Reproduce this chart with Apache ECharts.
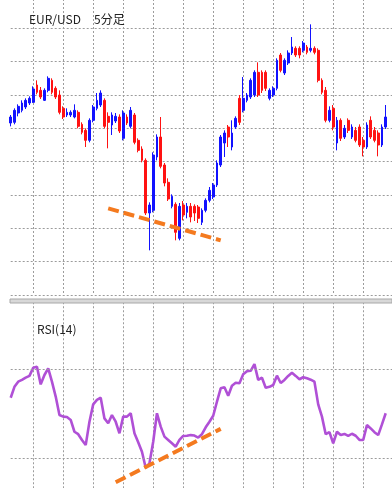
<!DOCTYPE html>
<html><head><meta charset="utf-8">
<script src="https://cdn.jsdelivr.net/npm/echarts@6/dist/echarts.min.js"></script>
<style>html,body{margin:0;padding:0;background:#fff}#c{width:392px;height:488px}</style>
</head><body><div id="c"></div>
<script>
// EUR/USD 5-minute candles
const openPrices=[1.30258,1.30259,1.30273,1.30277,1.30282,1.30288,1.30289,1.30315,1.30307,1.30292,
1.30307,1.30322,1.30310,1.30300,1.30280,1.30270,1.30270,1.30267,1.30274,1.30256,
1.30247,1.30232,1.30262,1.30280,1.30285,1.30292,1.30268,1.30255,1.30261,1.30267,
1.30235,1.30267,1.30253,1.30270,1.30232,1.30219,1.30202,1.30123,1.30127,1.30207,
1.30237,1.30195,1.30169,1.30133,1.30136,1.30085,1.30135,1.30124,1.30133,1.30133,
1.30132,1.30109,1.30127,1.30142,1.30147,1.30165,1.30195,1.30228,1.30252,1.30222,
1.30252,1.30295,1.30277,1.30292,1.30297,1.30300,1.30334,1.30334,1.30334,1.30295,
1.30300,1.30310,1.30360,1.30333,1.30348,1.30363,1.30370,1.30370,1.30367,1.30372,
1.30367,1.30370,1.30367,1.30322,1.30307,1.30262,1.30280,1.30228,1.30262,1.30237,
1.30262,1.30237,1.30247,1.30252,1.30232,1.30222,1.30262,1.30247,1.30243,1.30225,
1.30252];
const closePrices=[1.30267,1.30277,1.30283,1.30288,1.30292,1.30295,1.30309,1.30304,1.30297,1.30307,
1.30325,1.30304,1.30297,1.30274,1.30267,1.30274,1.30274,1.30277,1.30253,1.30244,
1.30232,1.30262,1.30282,1.30292,1.30303,1.30253,1.30259,1.30270,1.30268,1.30246,
1.30273,1.30258,1.30277,1.30229,1.30217,1.30202,1.30123,1.30135,1.30210,1.30237,
1.30193,1.30168,1.30144,1.30148,1.30094,1.30133,1.30120,1.30133,1.30117,1.30123,
1.30115,1.30127,1.30142,1.30157,1.30165,1.30198,1.30237,1.30243,1.30237,1.30243,
1.30265,1.30259,1.30295,1.30300,1.30322,1.30334,1.30300,1.30307,1.30310,1.30307,
1.30310,1.30352,1.30337,1.30352,1.30363,1.30372,1.30360,1.30360,1.30378,1.30364,
1.30370,1.30364,1.30322,1.30304,1.30262,1.30277,1.30252,1.30262,1.30235,1.30250,
1.30247,1.30252,1.30232,1.30225,1.30222,1.30255,1.30237,1.30232,1.30225,1.30252,
1.30267];
const lowPrices=[1.30253,1.30256,1.30268,1.30274,1.30279,1.30285,1.30288,1.30301,1.30294,1.30291,
1.30304,1.30301,1.30294,1.30271,1.30264,1.30267,1.30267,1.30265,1.30250,1.30241,
1.30222,1.30229,1.30259,1.30277,1.30282,1.30250,1.30220,1.30240,1.30258,1.30243,
1.30232,1.30255,1.30250,1.30226,1.30214,1.30199,1.30120,1.30067,1.30124,1.30202,
1.30190,1.30163,1.30141,1.30130,1.30082,1.30082,1.30112,1.30115,1.30109,1.30111,
1.30108,1.30105,1.30124,1.30139,1.30144,1.30162,1.30192,1.30207,1.30222,1.30217,
1.30249,1.30255,1.30274,1.30289,1.30294,1.30297,1.30297,1.30303,1.30306,1.30292,
1.30297,1.30307,1.30334,1.30330,1.30345,1.30360,1.30357,1.30355,1.30364,1.30361,
1.30364,1.30361,1.30319,1.30301,1.30259,1.30259,1.30247,1.30217,1.30231,1.30234,
1.30243,1.30234,1.30229,1.30222,1.30208,1.30219,1.30234,1.30229,1.30208,1.30222,
1.30249];
const highPrices=[1.30270,1.30280,1.30286,1.30292,1.30295,1.30298,1.30313,1.30322,1.30312,1.30310,
1.30328,1.30325,1.30313,1.30307,1.30283,1.30280,1.30277,1.30286,1.30277,1.30259,
1.30250,1.30265,1.30285,1.30303,1.30307,1.30295,1.30274,1.30274,1.30273,1.30271,
1.30277,1.30271,1.30282,1.30273,1.30235,1.30223,1.30205,1.30139,1.30214,1.30241,
1.30267,1.30198,1.30175,1.30151,1.30139,1.30138,1.30141,1.30138,1.30138,1.30136,
1.30135,1.30130,1.30145,1.30162,1.30168,1.30202,1.30240,1.30247,1.30255,1.30262,
1.30268,1.30300,1.30327,1.30303,1.30325,1.30337,1.30349,1.30337,1.30337,1.30310,
1.30313,1.30355,1.30363,1.30355,1.30367,1.30387,1.30373,1.30373,1.30381,1.30375,
1.30406,1.30373,1.30370,1.30325,1.30312,1.30283,1.30285,1.30267,1.30265,1.30255,
1.30265,1.30256,1.30252,1.30256,1.30237,1.30259,1.30268,1.30252,1.30247,1.30256,
1.30285];
// RSI(14)
const rsiValues=[57.1,62.0,64.3,65.1,66.1,66.9,70.6,71.0,63.1,67.3,
70.3,64.3,57.6,49.3,48.6,48.4,47.1,41.8,40.7,38.1,
35.8,46.3,54.1,56.1,57.1,47.8,45.6,49.3,46.3,41.1,
48.6,48.6,50.1,41.1,37.1,32.8,25.6,27.6,37.3,50.1,
44.1,39.6,38.1,36.6,35.1,38.1,39.9,40.0,40.3,40.1,
39.2,40.7,43.8,46.3,49.0,55.3,61.3,61.8,58.0,62.5,
63.8,63.6,67.6,69.0,69.2,72.2,65.1,66.1,61.6,62.0,
62.8,67.0,63.7,65.1,66.9,68.3,66.9,65.4,66.3,65.8,
65.2,64.3,54.1,48.6,40.7,41.6,36.6,41.8,40.3,40.8,
39.9,40.9,40.0,38.1,38.1,44.8,43.3,41.6,40.3,45.1,
50.1];
// divergence trend lines [candle index, value]
const priceTrend=[[26,1.30130],[56,1.30082]];
const rsiTrend=[[28,19.1],[56,43.1]];
const rsiLevels=[70,30];
// time categories (5-minute bars)
const categoryCount=103;
const categories=[];
for(let i=0;i<categoryCount;i++){const m=9*60+5*i;categories.push(String(Math.floor(m/60)%24).padStart(2,'0')+':'+String(m%60).padStart(2,'0'));}

const candles=openPrices.map((o,i)=>[o,closePrices[i],lowPrices[i],highPrices[i]]);

const GRID_COLOR='#9c9c9c';
const dotted={color:GRID_COLOR,type:[2,2],width:1};
const font='"Noto Sans CJK JP", "Noto Sans", sans-serif';
const txt={fontSize:12,fontWeight:'normal',color:'#222',fontFamily:font};
const xBase=(g)=>({type:'category',gridIndex:g,data:categories,boundaryGap:false,
  axisLine:{show:false},axisTick:{show:false},axisLabel:{show:false},
  splitLine:{show:true,interval:(i)=>i%8===6,lineStyle:dotted}});
const chart=echarts.init(document.getElementById('c'),null,{renderer:'canvas'});
chart.setOption({
  animation:false,
  backgroundColor:'#fff',
  title:[
    {text:'EUR/USD',left:29,top:13,padding:0,textStyle:txt},
    {text:'5分足',left:94,top:13,padding:0,textStyle:txt},
    {text:'RSI(14)',left:37,top:323,padding:0,textStyle:txt}
  ],
  grid:[
    {left:10.7,top:-5,width:382.5,height:300,outerBoundsMode:'none',containLabel:false},
    {left:10.7,top:302.25,width:382.5,height:185.75,outerBoundsMode:'none',containLabel:false}
  ],
  xAxis:[xBase(0),xBase(1)],
  yAxis:[
    {type:'value',gridIndex:0,min:1.3,max:1.3045,interval:0.0005,
     axisLine:{show:false},axisTick:{show:false},axisLabel:{show:false},
     splitLine:{show:true,lineStyle:dotted}},
    {type:'value',gridIndex:1,min:16.52,max:100,
     axisLine:{show:false},axisTick:{show:false},axisLabel:{show:false},
     splitLine:{show:false}}
  ],
  series:[
    {type:'candlestick',xAxisIndex:0,yAxisIndex:0,data:candles,barWidth:2.3,clip:false,
     itemStyle:{color:'#1212ff',color0:'#ff1212',borderColor:'#1212ff',borderColor0:'#ff1212',borderWidth:1}},
    {type:'line',xAxisIndex:0,yAxisIndex:0,data:priceTrend,symbol:'none',z:5,
     lineStyle:{color:'#f47a1f',width:4,type:[11,5],cap:'butt'}},
    {type:'line',xAxisIndex:1,yAxisIndex:1,data:rsiValues,symbol:'none',z:3,
     lineStyle:{color:'#b050d6',width:2.6},
     markLine:{silent:true,symbol:['none','none'],label:{show:false},
       lineStyle:dotted,emphasis:{disabled:true},
       data:rsiLevels.map(v=>({yAxis:v}))}},
    {type:'line',xAxisIndex:1,yAxisIndex:1,data:rsiTrend,symbol:'none',z:5,
     lineStyle:{color:'#f47a1f',width:4,type:[11,5],cap:'butt'}}
  ],
  graphic:[
    {type:'rect',shape:{x:10,y:299,width:382,height:4},
     style:{fill:'#d8d8d8',stroke:'#a8a8a8',lineWidth:1},z:100}
  ]
});
</script>
</body></html>
